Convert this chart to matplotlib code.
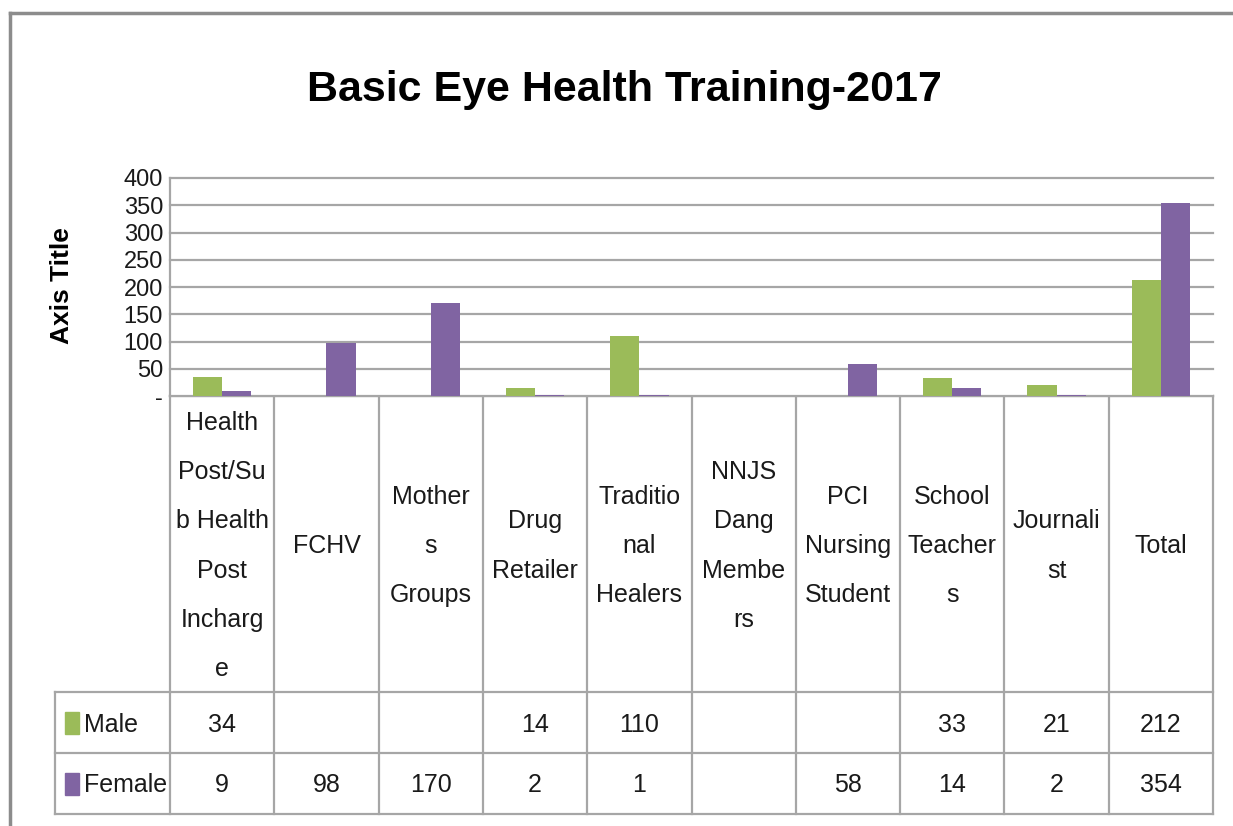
import matplotlib.pyplot as plt
import numpy as np

# Training participants by group
categories = ["Health\nPost/Su\nb Health\nPost\nIncharg\ne", "FCHV", "Mother\ns\nGroups",
              "Drug\nRetailer", "Traditio\nnal\nHealers", "NNJS\nDang\nMembe\nrs",
              "PCI\nNursing\nStudent", "School\nTeacher\ns", "Journali\nst", "Total"]
male = [34, None, None, 14, 110, None, None, 33, 21, 212]
female = [9, 98, 170, 2, 1, None, 58, 14, 2, 354]
series_names = ["Male", "Female"]
yticks = [0, 50, 100, 150, 200, 250, 300, 350, 400]
ytick_labels = ["-", "50", "100", "150", "200", "250", "300", "350", "400"]

GREEN = '#9BBB59'
PURPLE = '#8064A2'
GRID = '#A6A6A6'
TXT = '#1A1A1A'

plt.rcParams['font.family'] = ['Liberation Sans', 'DejaVu Sans']

W, H = 1233, 826
fig = plt.figure(figsize=(W / 100, H / 100), dpi=100)
fig.patch.set_facecolor('white')

# plot area in pixel units
left, right, top, base = 170, 1213, 178, 396
ax = fig.add_axes([left / W, 1 - base / H, (right - left) / W, (base - top) / H])

n = len(categories)
x = np.arange(n)
bw = 0.28
m_vals = [v if v is not None else 0 for v in male]
f_vals = [v if v is not None else 0 for v in female]
ax.bar(x - bw / 2, m_vals, bw, color=GREEN, zorder=3)
ax.bar(x + bw / 2, f_vals, bw, color=PURPLE, zorder=3)

ax.set_xlim(-0.5, n - 0.5)
ax.set_ylim(0, 400)
ax.set_yticks(yticks)
ax.set_yticklabels(ytick_labels, fontsize=17, color=TXT)
ax.tick_params(axis='y', length=0, pad=5)
ax.set_xticks([])
ax.yaxis.grid(True, color=GRID, linewidth=1.6, zorder=0)
for gl in ax.get_ygridlines():
    gl.set_clip_on(False)
for s in ['top', 'right', 'bottom']:
    ax.spines[s].set_visible(False)
ax.spines['left'].set_color(GRID)
ax.spines['left'].set_linewidth(1.6)

# overlay in pixel coordinates for frame, title and data table
ov = fig.add_axes([0, 0, 1, 1], zorder=-1)
ov.set_xlim(0, W)
ov.set_ylim(H, 0)
ov.axis('off')

# chart border
ov.plot([10, 10], [13, H], color='#8C8C8C', linewidth=2.5)
ov.plot([10, W], [13, 13], color='#8C8C8C', linewidth=2.5)

ov.text(624, 90, "Basic Eye Health Training-2017", ha='center', va='center',
        fontsize=31, fontweight='bold', color='black')
ov.text(62, 286, "Axis Title", rotation=90, ha='center', va='center',
        fontsize=19, fontweight='bold', color='black')

# data table grid
colw = (right - left) / n
row_tops = [base, 692, 753, 814]
for y in row_tops:
    ov.plot([left if y == base else 55, right], [y, y], color=GRID, linewidth=1.6)
for i in range(n + 1):
    xx = left + i * colw
    ov.plot([xx, xx], [base, 814], color=GRID, linewidth=1.6)
ov.plot([55, 55], [692, 814], color=GRID, linewidth=1.6)

for i, cat in enumerate(categories):
    ov.text(left + (i + 0.5) * colw, 546, cat, ha='center', va='center',
            fontsize=18, linespacing=2.33, color=TXT)

rows = [male, female]
colors = [GREEN, PURPLE]
for r, (vals, name, c) in enumerate(zip(rows, series_names, colors)):
    yc = (row_tops[r + 1] + row_tops[r + 2]) / 2
    ov.add_patch(plt.Rectangle((65, yc - 11), 14, 22, color=c))
    ov.text(84, yc + 2, name, ha='left', va='center', fontsize=18, color=TXT)
    for i, v in enumerate(vals):
        if v is not None:
            ov.text(left + (i + 0.5) * colw, yc + 2, str(v), ha='center', va='center',
                    fontsize=18, color=TXT)

fig.savefig('out.png', dpi=100)
